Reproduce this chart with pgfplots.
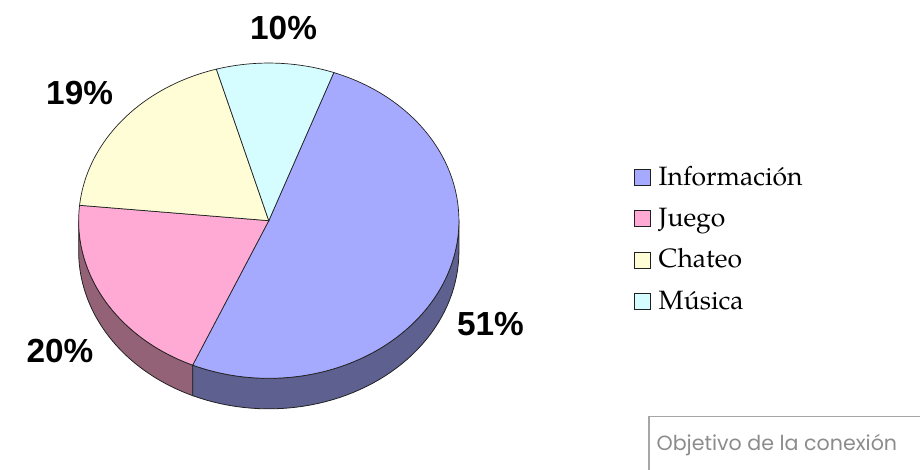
\documentclass[border=0pt]{standalone}
\usepackage{fontspec}
\setmainfont{Liberation Sans}
\newfontfamily\pal{TeX Gyre Pagella}
\newfontfamily\pop{Poppins}
\usepackage{pgfplots}
\pgfplotsset{compat=1.18}
\usepackage{pgfplotstable}

\definecolor{blueTop}{HTML}{A6AAFF}
\definecolor{blueSide}{HTML}{5E6090}
\definecolor{pinkTop}{HTML}{FFAAD5}
\definecolor{pinkSide}{HTML}{936277}
\definecolor{yellowTop}{HTML}{FFFDD5}
\definecolor{cyanTop}{HTML}{D5FDFF}
\definecolor{edge}{HTML}{202020}
\definecolor{boxgray}{HTML}{A6A6A6}
\definecolor{txtgray}{HTML}{8C8C8C}

% Objetivo de la conexion (percent)
\pgfplotstableread{
slice value
Informacion 51
Juego 20
Chateo 19
Musica 10
}\piedata

\begin{document}
\pgfplotstablegetelem{0}{value}\of\piedata \let\vA\pgfplotsretval
\pgfplotstablegetelem{1}{value}\of\piedata \let\vB\pgfplotsretval
\pgfplotstablegetelem{2}{value}\of\piedata \let\vC\pgfplotsretval
\pgfplotstablegetelem{3}{value}\of\piedata \let\vD\pgfplotsretval
\pgfmathsetmacro\tA{70}
\pgfmathsetmacro\tB{\tA-3.6*\vA}
\pgfmathsetmacro\tC{\tB-3.6*\vB}
\pgfmathsetmacro\tD{\tC-3.6*\vC}
\pgfmathsetmacro\tE{\tD-3.6*\vD}
\begin{tikzpicture}
\path[use as bounding box] (0,0) rectangle (920bp,477bp);
\begin{axis}[at={(0,0)}, anchor=south west,
  width=920bp, height=477bp, scale only axis,
  xmin=0, xmax=920, ymin=0, ymax=477,
  hide axis, clip=false,
  declare function={
    th(\t,\a,\b)=(\t<50.5)*(\a+\t/50*(\b-\a)) + (\t>50.5)*(\b-(\t-51)/50*(\b-\a));
  },
  legend style={draw=none, fill=none, inner sep=0pt, outer sep=0pt,
    at={(axis cs:630,308)}, anchor=north west,
    row sep=17bp, column sep=0bp,
    nodes={inner sep=0pt, text height=19bp, text depth=6bp, anchor=base west},
    font=\pal\fontsize{27}{31}\selectfont},
  legend cell align=left,
  legend image code/.code={\draw[#1, line width=0.8bp] (0bp,0bp) rectangle (16bp,16bp);},
]
% sides (visible lower half)
\addplot[forget plot, fill=pinkSide, draw=edge, line width=0.8bp, domain=0:101, samples=102]
  ({259+193*cos(th(x,-180,\tB))}, {253+160*sin(th(x,-180,\tB))-31*(x<50.5)}) -- cycle;
\addplot[forget plot, fill=blueSide, draw=edge, line width=0.8bp, domain=0:101, samples=102]
  ({259+193*cos(th(x,\tB,0))}, {253+160*sin(th(x,\tB,0))-31*(x<50.5)}) -- cycle;
% top face
\addplot[fill=blueTop, draw=edge, line width=0.7bp, domain=\tB:\tA, samples=120]
  ({259+193*cos(x)}, {253+160*sin(x)}) -- (axis cs:259,253) -- cycle;
\addlegendentry{\hspace{8bp}Información}
\addplot[fill=pinkTop, draw=edge, line width=0.7bp, domain=\tC:\tB, samples=60]
  ({259+193*cos(x)}, {253+160*sin(x)}) -- (axis cs:259,253) -- cycle;
\addlegendentry{\hspace{8bp}Juego}
\addplot[fill=yellowTop, draw=edge, line width=0.7bp, domain=\tD:\tC, samples=60]
  ({259+193*cos(x)}, {253+160*sin(x)}) -- (axis cs:259,253) -- cycle;
\addlegendentry{\hspace{8bp}Chateo}
\addplot[fill=cyanTop, draw=edge, line width=0.7bp, domain=\tE:\tD, samples=40]
  ({259+193*cos(x)}, {253+160*sin(x)}) -- (axis cs:259,253) -- cycle;
\addlegendentry{\hspace{8bp}Música}
% percentage labels
\begin{scope}[every node/.style={font=\bfseries\fontsize{34}{40}\selectfont, inner sep=0pt}]
\node at (axis cs:274,449) {10\%};
\node at (axis cs:67,383) {19\%};
\node at (axis cs:484,148) {51\%};
\node at (axis cs:47,121) {20\%};
\end{scope}
% title box
\draw[boxgray, line width=1.5bp] (axis cs:645,0) -- (axis cs:645,54) -- (axis cs:920,54);
\node[anchor=base east, inner sep=0pt, text=txtgray, font=\pop\fontsize{21}{25}\selectfont]
  at (axis cs:897,20) {Objetivo de la conexión};
\end{axis}
\end{tikzpicture}
\end{document}
